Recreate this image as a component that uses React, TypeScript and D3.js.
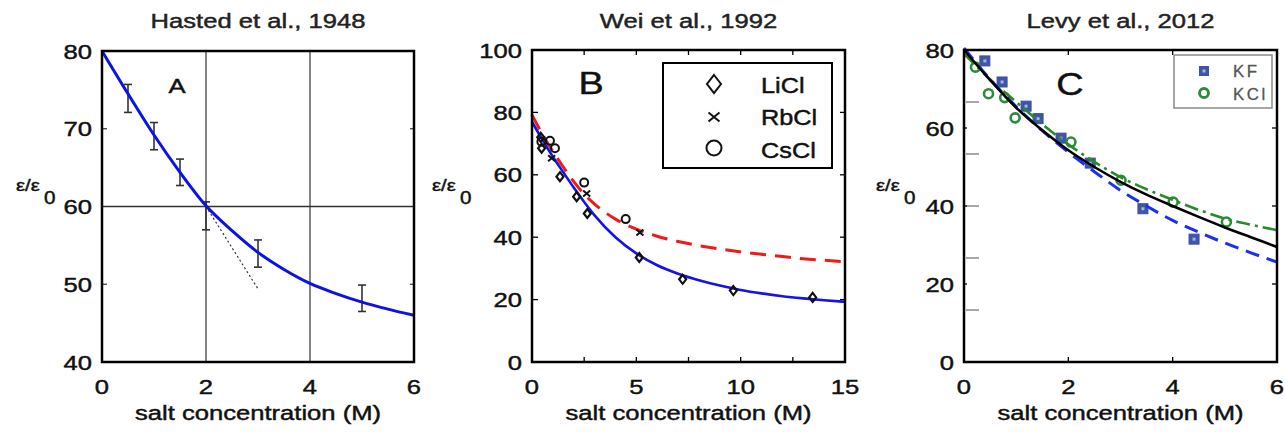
import React from 'react';
import * as d3 from 'd3';

// ---- panel A (Hasted et al., 1948)
const aFitX = [0, 0.5, 1, 1.5, 2, 2.5, 3, 3.5, 4, 4.5, 5, 5.5, 6];
const aFitY = [80, 74.5, 69.2, 64.4, 60.1, 56.9, 54.1, 51.9, 50.1, 48.8, 47.7, 46.8, 46.0];
const aErrX = [0.5, 1, 1.5, 2, 3, 5];
const aErrLo = [72.1, 67.3, 62.7, 57.0, 52.2, 46.5];
const aErrHi = [75.7, 70.8, 66.1, 60.6, 55.7, 49.9];
const aTangentX = [2, 3];
const aTangentY = [60, 49.4];
const aXTicks = [0, 2, 4, 6];
const aYTicks = [40, 50, 60, 70, 80];

// ---- panel B (Wei et al., 1992)
const bLiClX = [0.42, 0.46, 1.34, 2.14, 2.65, 5.14, 7.22, 9.65, 13.45];
const bLiClY = [72.0, 68.5, 59.4, 53.0, 47.6, 33.5, 26.5, 22.9, 20.7];
const bRbClX = [0.94, 2.62, 5.17];
const bRbClY = [65.3, 54.0, 41.5];
const bCsClX = [0.45, 0.86, 1.1, 2.5, 4.49];
const bCsClY = [70.6, 70.9, 68.5, 57.5, 45.8];
const bFitX = [0, 0.5, 1, 1.5, 2, 2.5, 3, 4, 5, 6, 7, 8, 9, 10, 11, 12, 13, 14, 15];
const bBlueY = [77, 71.2, 65.8, 60.8, 55.9, 51.3, 47.0, 40.0, 34.8, 31.0, 28.3, 26.2, 24.5, 23.1, 22.0, 21.1, 20.4, 19.8, 19.3];
const bRedY = [79.2, 73, 67.5, 62.5, 57.8, 53.8, 50.6, 45.8, 42.6, 40.3, 38.6, 37.3, 36.2, 35.3, 34.5, 33.8, 33.1, 32.6, 32.1];
const bXTicks = [0, 5, 10, 15];
const bXMinor = [2.5, 5, 7.5, 10, 12.5];
const bYTicks = [0, 20, 40, 60, 80, 100];

// ---- panel C (Levy et al., 2012)
const cKFX = [0.40, 0.73, 1.19, 1.42, 1.86, 2.42, 3.43, 4.41];
const cKFY = [77.2, 71.8, 65.6, 62.4, 57.4, 51.0, 39.3, 31.5];
const cKClX = [0.22, 0.47, 0.78, 0.98, 2.05, 3.01, 4.01, 5.03];
const cKClY = [75.6, 68.8, 67.8, 62.6, 56.4, 46.6, 41.0, 35.9];
const cFitX = [0, 0.5, 1, 1.5, 2, 2.5, 3, 3.5, 4, 4.5, 5, 5.5, 6];
const cBlackY = [80, 72.3, 65.2, 59.4, 54.3, 50.0, 46.2, 42.9, 40.0, 37.2, 34.5, 32.0, 29.5];
const cBlueY = [80.5, 72.5, 65.5, 59.3, 53.8, 48.8, 44.0, 40.0, 36.3, 33.3, 30.5, 28.0, 25.6];
const cGreenY = [79, 72.5, 66.7, 61.0, 55.8, 51.3, 47.4, 44.3, 41.6, 39.0, 36.8, 35.2, 33.8];
const cXTicks = [0, 2, 4, 6];
const cYTicks = [0, 20, 40, 60, 80];

const FONT = '"Liberation Sans", Arial, sans-serif';
const SX = 1.22;

const Txt = ({ x, y, size, anchor = 'middle', fill = '#111', sx = SX, spacing = 0, bold = 0.45, children }: any) => (
  <text
    transform={`translate(${x},${y}) scale(${sx},1)`}
    fontSize={size}
    textAnchor={anchor}
    fill={fill}
    stroke={fill}
    strokeWidth={bold}
    fontFamily={FONT}
    letterSpacing={spacing}
  >
    {children}
  </text>
);

const zip = (xs: number[], ys: number[]) => xs.map((x, i) => [x, ys[i]] as [number, number]);

// frame, tick labels, title, axis labels shared by all panels
const Frame = ({ x, y, xTicks, yTicks, title, letter, letterX, letterY, letterSize, yLabelX }: any) => {
  const [x0, x1] = x.range();
  const [y0, y1] = y.range();
  const cx = (x0 + x1) / 2;
  return (
    <g>
      <rect x={x0} y={y1} width={x1 - x0} height={y0 - y1} fill="none" stroke="#000" strokeWidth={2.5} />
      {xTicks.map((t: number) => (
        <Txt key={'x' + t} x={x(t)} y={394} size={21}>{t}</Txt>
      ))}
      {yTicks.map((t: number) => (
        <Txt key={'y' + t} x={x0 - 10} y={y(t) + 7.5} size={21} anchor="end">{t}</Txt>
      ))}
      <Txt x={cx} y={28} size={21} fill="#222">{title}</Txt>
      <Txt x={cx} y={420} size={21}>salt concentration (M)</Txt>
      <Txt x={letterX} y={letterY} size={letterSize}>{letter}</Txt>
      <Txt x={yLabelX} y={191} size={17} anchor="start" sx={1.2}>ε/ε</Txt>
      <Txt x={yLabelX + 28} y={204} size={18} anchor="start" sx={1.15}>0</Txt>
    </g>
  );
};

const App = () => {
  // scales
  const xA = d3.scaleLinear().domain([0, 6]).range([102, 414]);
  const yA = d3.scaleLinear().domain([40, 80]).range([362, 51]);
  const xB = d3.scaleLinear().domain([0, 15]).range([532, 845]);
  const yB = d3.scaleLinear().domain([0, 100]).range([362, 50]);
  const xC = d3.scaleLinear().domain([0, 6]).range([964, 1277]);
  const yC = d3.scaleLinear().domain([0, 80]).range([362, 50]);

  const lineFor = (xs: any, ys: any) =>
    d3.line<[number, number]>().x(d => xs(d[0])).y(d => ys(d[1])).curve(d3.curveMonotoneX);
  const lineA = lineFor(xA, yA);
  const lineB = lineFor(xB, yB);
  const lineC = lineFor(xC, yC);

  return (
    <svg width={1285} height={435} style={{ position: 'absolute', left: 0, top: 0, background: '#fff' }}>
      {/* ---------- A ---------- */}
      <g>
        {[2, 4].map(t => (
          <line key={t} x1={xA(t)} x2={xA(t)} y1={yA(40)} y2={yA(80)} stroke="#333" strokeWidth={1.2} />
        ))}
        <line x1={xA(0)} x2={xA(6)} y1={yA(60)} y2={yA(60)} stroke="#333" strokeWidth={1.3} />
        {[50, 70].map(t => (
          <g key={t}>
            <line x1={xA(0)} x2={xA(0) + 5} y1={yA(t)} y2={yA(t)} stroke="#333" strokeWidth={1.2} />
            <line x1={xA(6)} x2={xA(6) - 4} y1={yA(t)} y2={yA(t)} stroke="#333" strokeWidth={1.2} />
          </g>
        ))}
        <path d={lineA(zip(aTangentX, aTangentY)) || ''} fill="none" stroke="#333" strokeWidth={1.2} strokeDasharray="2,2.5" />
        {aErrX.map((v, i) => (
          <g key={i} stroke="#333" strokeWidth={1.6}>
            <line x1={xA(v)} x2={xA(v)} y1={yA(aErrLo[i])} y2={yA(aErrHi[i])} />
            <line x1={xA(v) - 4} x2={xA(v) + 4} y1={yA(aErrLo[i])} y2={yA(aErrLo[i])} />
            <line x1={xA(v) - 4} x2={xA(v) + 4} y1={yA(aErrHi[i])} y2={yA(aErrHi[i])} />
          </g>
        ))}
        <path d={lineA(zip(aFitX, aFitY)) || ''} fill="none" stroke="#0b12e6" strokeWidth={3} />
        <Frame x={xA} y={yA} xTicks={aXTicks} yTicks={aYTicks} title="Hasted et al., 1948"
          letter="A" letterX={177} letterY={93} letterSize={21} yLabelX={16} />
      </g>

      {/* ---------- B ---------- */}
      <g>
        {bXMinor.map(t => (
          <g key={t} stroke="#000" strokeWidth={1.3}>
            <line x1={xB(t)} x2={xB(t)} y1={yB(0)} y2={yB(0) - 5} />
            <line x1={xB(t)} x2={xB(t)} y1={yB(100)} y2={yB(100) + 5} />
          </g>
        ))}
        {[20, 40, 60, 80].map(t => (
          <g key={t} stroke="#000" strokeWidth={1.3}>
            <line x1={xB(0)} x2={xB(0) + 6} y1={yB(t)} y2={yB(t)} />
            <line x1={xB(15)} x2={xB(15) - 5} y1={yB(t)} y2={yB(t)} />
          </g>
        ))}
        <path d={lineB(zip(bFitX, bRedY)) || ''} fill="none" stroke="#ef1a1a" strokeWidth={3} strokeDasharray="16,9" />
        <path d={lineB(zip(bFitX, bBlueY)) || ''} fill="none" stroke="#1414e4" strokeWidth={2.6} />
        {bLiClX.map((v, i) => (
          <path key={'d' + i} transform={`translate(${xB(v)},${yB(bLiClY[i])})`}
            d="M0,-4.5L3.5,0L0,4.5L-3.5,0Z" fill="none" stroke="#111" strokeWidth={2.2} />
        ))}
        {bRbClX.map((v, i) => (
          <path key={'x' + i} transform={`translate(${xB(v)},${yB(bRbClY[i])})`}
            d="M-3.5,-3L3.5,3M-3.5,3L3.5,-3" fill="none" stroke="#111" strokeWidth={2} />
        ))}
        {bCsClX.map((v, i) => (
          <circle key={'c' + i} cx={xB(v)} cy={yB(bCsClY[i])} r={4} fill="none" stroke="#111" strokeWidth={2} />
        ))}
        {/* legend */}
        <rect x={663} y={63} width={169} height={105} fill="#fff" stroke="#000" strokeWidth={2} />
        <path transform="translate(714,84)" d="M0,-9L7,0L0,9L-7,0Z" fill="none" stroke="#111" strokeWidth={2} />
        <path transform="translate(714,117)" d="M-5.5,-4.5L5.5,4.5M-5.5,4.5L5.5,-4.5" fill="none" stroke="#111" strokeWidth={2} />
        <circle cx={714} cy={148} r={7.5} fill="none" stroke="#111" strokeWidth={2} />
        <Txt x={761} y={93} size={22} anchor="start" sx={1.15}>LiCl</Txt>
        <Txt x={761} y={125} size={22} anchor="start" sx={1.15}>RbCl</Txt>
        <Txt x={761} y={158} size={22} anchor="start" sx={1.15}>CsCl</Txt>
        <Frame x={xB} y={yB} xTicks={bXTicks} yTicks={bYTicks} title="Wei et al., 1992"
          letter="B" letterX={591} letterY={94} letterSize={31} yLabelX={432} />
      </g>

      {/* ---------- C ---------- */}
      <g>
        {[1, 2, 3, 4, 5].map(k => (
          <line key={k} x1={xC(0) + 2} x2={xC(0) + 15} y1={yC((80 * k) / 6)} y2={yC((80 * k) / 6)} stroke="#777" strokeWidth={1.3} />
        ))}
        {[20, 40, 60].map(t => (
          <g key={t} stroke="#000" strokeWidth={1.3}>
            <line x1={xC(0)} x2={xC(0) + 3} y1={yC(t)} y2={yC(t)} />
            <line x1={xC(6)} x2={xC(6) - 5} y1={yC(t)} y2={yC(t)} />
          </g>
        ))}
        {[2, 4].map(t => (
          <g key={t} stroke="#000" strokeWidth={1.3}>
            <line x1={xC(t)} x2={xC(t)} y1={yC(0)} y2={yC(0) - 5} />
            <line x1={xC(t)} x2={xC(t)} y1={yC(80)} y2={yC(80) + 5} />
          </g>
        ))}
        {cKFX.map((v, i) => (
          <g key={'s' + i} transform={`translate(${xC(v)},${yC(cKFY[i])})`}>
            <rect x={-5} y={-5} width={10} height={10} fill="#3f55a8" stroke="#3a4f9e" strokeWidth={1} />
            <rect x={-1.5} y={-1.5} width={3} height={3} fill="#a5b2e6" />
          </g>
        ))}
        {cKClX.map((v, i) => (
          <circle key={'o' + i} cx={xC(v)} cy={yC(cKClY[i])} r={4.5} fill="none" stroke="#2b8a3b" strokeWidth={2.6} />
        ))}
        <path d={lineC(zip(cFitX, cGreenY)) || ''} fill="none" stroke="#2a8a2a" strokeWidth={2.6} strokeDasharray="14,5,3,5" />
        <path d={lineC(zip(cFitX, cBlueY)) || ''} fill="none" stroke="#1a30ee" strokeWidth={3} strokeDasharray="14,8" />
        <path d={lineC(zip(cFitX, cBlackY)) || ''} fill="none" stroke="#000" strokeWidth={2.6} />
        {/* legend */}
        <rect x={1174} y={55} width={98} height={53} fill="#fff" stroke="#8a8a8a" strokeWidth={1.5} />
        <rect x={1199} y={66} width={10} height={10} fill="#3f55a8" />
        <rect x={1202.5} y={69.5} width={3} height={3} fill="#a5b2e6" />
        <circle cx={1204} cy={93} r={4.5} fill="none" stroke="#2b8a3b" strokeWidth={2.8} />
        <Txt x={1233} y={77} size={16} anchor="start" fill="#555" sx={1.05} spacing={2.5} bold={0.3}>KF</Txt>
        <Txt x={1233} y={100} size={16} anchor="start" fill="#555" sx={1.05} spacing={2.5} bold={0.3}>KCl</Txt>
        <Frame x={xC} y={yC} xTicks={cXTicks} yTicks={cYTicks} title="Levy et al., 2012"
          letter="C" letterX={1070} letterY={95} letterSize={31} yLabelX={876} />
      </g>
    </svg>
  );
};

export default App;
